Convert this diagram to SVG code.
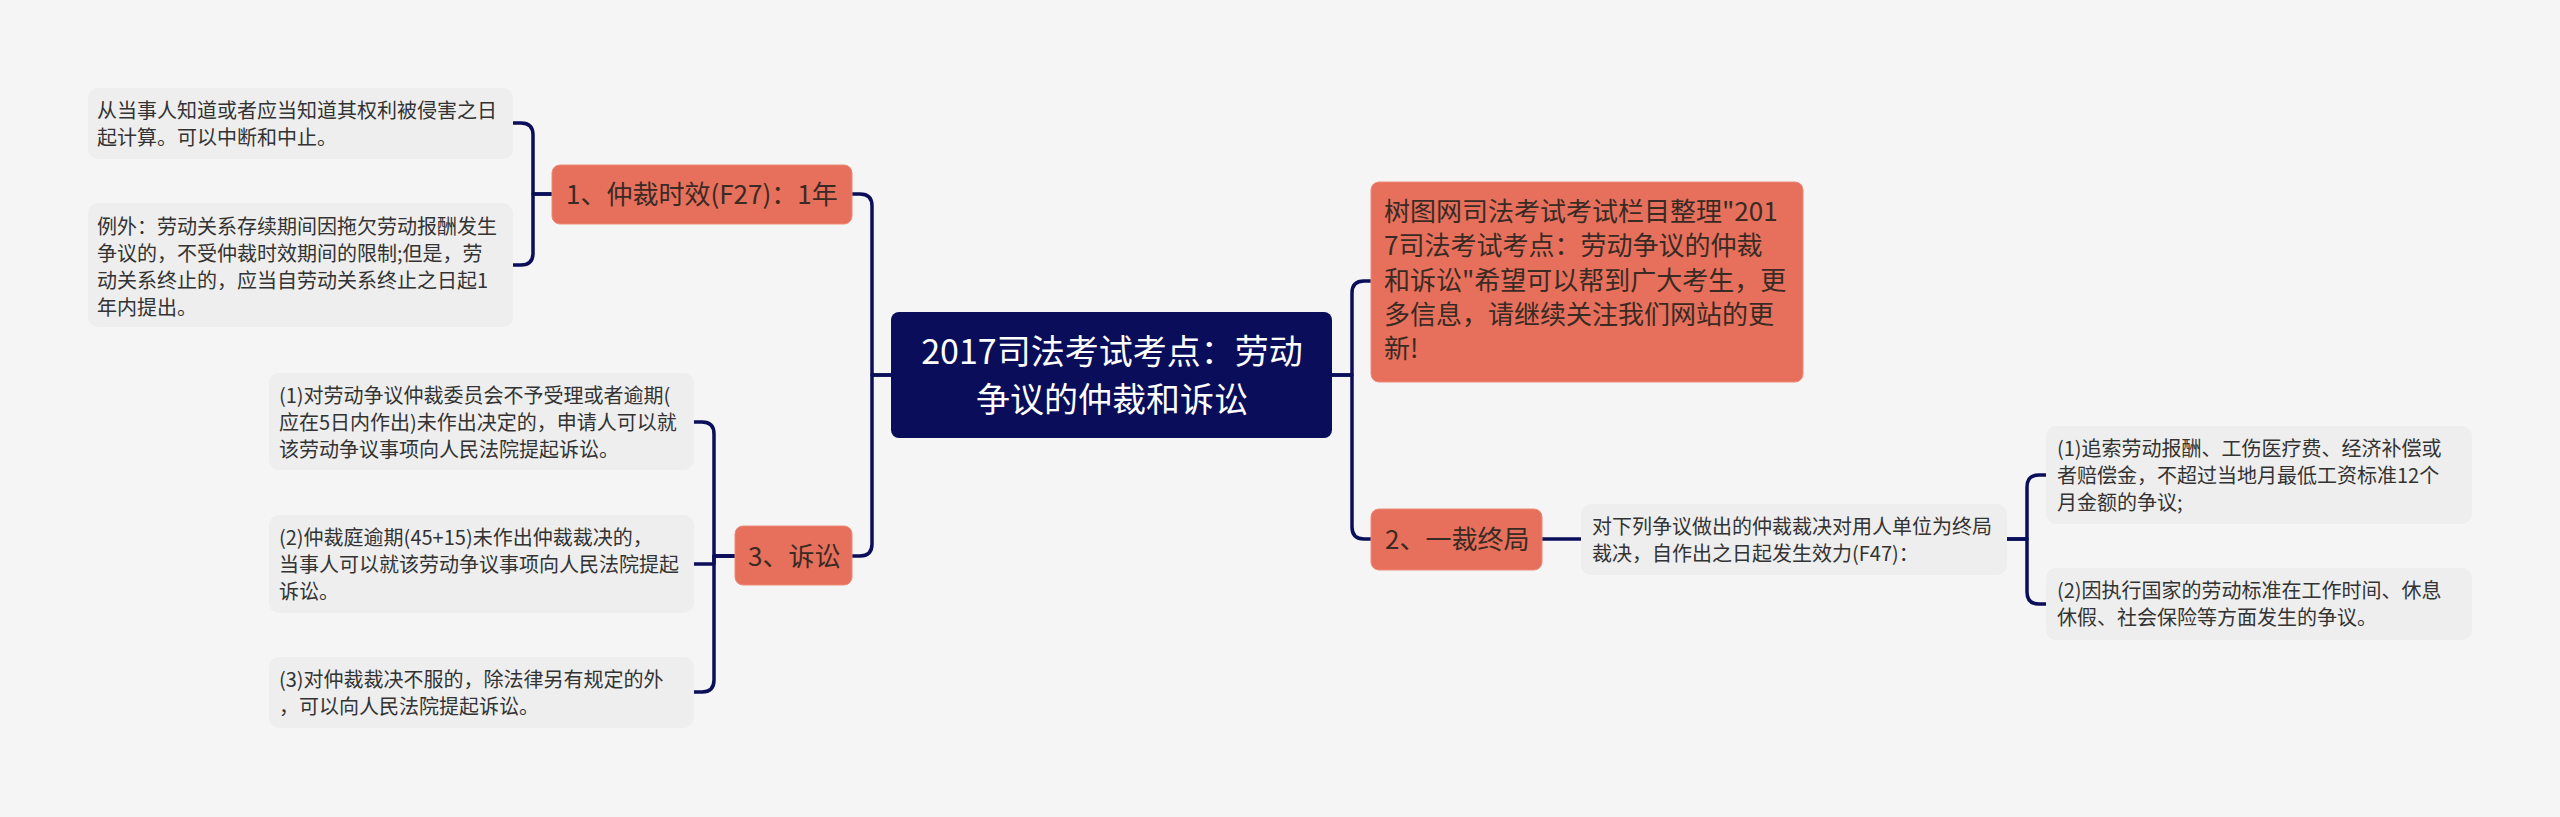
<svg xmlns="http://www.w3.org/2000/svg" width="2560" height="817" viewBox="0 0 2560 817">
<style>
text{font-family:"Noto Sans CJK SC","Noto Sans",sans-serif;}
.conn{fill:none;stroke:#0b0f5a;stroke-width:3.5;stroke-linejoin:round;}
.root rect{fill:#0a0e5a;}
.root text{fill:#ffffff;font-size:34px;text-anchor:middle;}
.main rect{fill:#e6705b;stroke:#ee8a77;stroke-width:1;}
.main text{fill:#3a2a24;font-size:26px;}
.leaf rect{fill:#eeeeee;}
.leaf text{fill:#333333;font-size:20px;}
</style>
<rect width="2560" height="817" fill="#f5f5f6"/>
<g id="connectors">
<path class="conn" d="M891,375 H872 V206 Q872,194 860,194 H852"/>
<path class="conn" d="M891,375 H872 V544 Q872,556 860,556 H852"/>
<path class="conn" d="M552,194 H533 V135 Q533,123 521,123 H513"/>
<path class="conn" d="M552,194 H533 V253 Q533,265 521,265 H513"/>
<path class="conn" d="M735,556 H714 V434 Q714,422 702,422 H694"/>
<path class="conn" d="M735,556 H714 V564 H694"/>
<path class="conn" d="M735,556 H714 V680 Q714,692 702,692 H694"/>
<path class="conn" d="M1332,375 H1352 V293 Q1352,281 1364,281 H1371"/>
<path class="conn" d="M1332,375 H1352 V527 Q1352,539 1364,539 H1371"/>
<path class="conn" d="M1542,539 H1581"/>
<path class="conn" d="M2007,539 H2027 V487 Q2027,475 2039,475 H2046"/>
<path class="conn" d="M2007,539 H2027 V592 Q2027,604 2039,604 H2046"/>
</g>
<g id="root" class="root">
<rect x="891" y="312" width="441" height="126" rx="8"/>
<text x="1112" y="364">2017司法考试考点：劳动</text>
<text x="1112" y="412">争议的仲裁和诉讼</text>
</g>
<g id="node1" class="main">
<rect x="552" y="165" width="300" height="59" rx="8"/>
<text x="566" y="204">1、仲裁时效(F27)：1年</text>
</g>
<g id="node3" class="main">
<rect x="735" y="526" width="117" height="59" rx="8"/>
<text x="748" y="566">3、诉讼</text>
</g>
<g id="nodeR1" class="main">
<rect x="1371" y="182" width="432" height="200" rx="8"/>
<text x="1384" y="221">树图网司法考试考试栏目整理"201</text>
<text x="1384" y="255">7司法考试考点：劳动争议的仲裁</text>
<text x="1384" y="290">和诉讼"希望可以帮到广大考生，更</text>
<text x="1384" y="324">多信息，请继续关注我们网站的更</text>
<text x="1384" y="358">新!</text>
</g>
<g id="nodeR2" class="main">
<rect x="1371" y="509" width="171" height="61" rx="8"/>
<text x="1385" y="549">2、一裁终局</text>
</g>
<g id="leafL1" class="leaf">
<rect x="88" y="88" width="425" height="71" rx="10"/>
<text x="97" y="118">从当事人知道或者应当知道其权利被侵害之日</text>
<text x="97" y="145">起计算。可以中断和中止。</text>
</g>
<g id="leafL2" class="leaf">
<rect x="88" y="203" width="425" height="124" rx="10"/>
<text x="97" y="234">例外：劳动关系存续期间因拖欠劳动报酬发生</text>
<text x="97" y="261">争议的，不受仲裁时效期间的限制;但是，劳</text>
<text x="97" y="288">动关系终止的，应当自劳动关系终止之日起1</text>
<text x="97" y="315">年内提出。</text>
</g>
<g id="leafL3" class="leaf">
<rect x="269" y="373" width="425" height="97" rx="10"/>
<text x="279" y="403">(1)对劳动争议仲裁委员会不予受理或者逾期(</text>
<text x="279" y="430">应在5日内作出)未作出决定的，申请人可以就</text>
<text x="279" y="457">该劳动争议事项向人民法院提起诉讼。</text>
</g>
<g id="leafL4" class="leaf">
<rect x="269" y="515" width="425" height="98" rx="10"/>
<text x="279" y="545">(2)仲裁庭逾期(45+15)未作出仲裁裁决的，</text>
<text x="279" y="572">当事人可以就该劳动争议事项向人民法院提起</text>
<text x="279" y="599">诉讼。</text>
</g>
<g id="leafL5" class="leaf">
<rect x="269" y="657" width="425" height="71" rx="10"/>
<text x="279" y="687">(3)对仲裁裁决不服的，除法律另有规定的外</text>
<text x="279" y="714">，可以向人民法院提起诉讼。</text>
</g>
<g id="leafR3" class="leaf">
<rect x="1581" y="504" width="426" height="71" rx="10"/>
<text x="1592" y="534">对下列争议做出的仲裁裁决对用人单位为终局</text>
<text x="1592" y="561">裁决，自作出之日起发生效力(F47)：</text>
</g>
<g id="leafR4" class="leaf">
<rect x="2046" y="426" width="426" height="98" rx="10"/>
<text x="2057" y="456">(1)追索劳动报酬、工伤医疗费、经济补偿或</text>
<text x="2057" y="483">者赔偿金，不超过当地月最低工资标准12个</text>
<text x="2057" y="510">月金额的争议;</text>
</g>
<g id="leafR5" class="leaf">
<rect x="2046" y="568" width="426" height="72" rx="10"/>
<text x="2057" y="598">(2)因执行国家的劳动标准在工作时间、休息</text>
<text x="2057" y="625">休假、社会保险等方面发生的争议。</text>
</g>
</svg>
